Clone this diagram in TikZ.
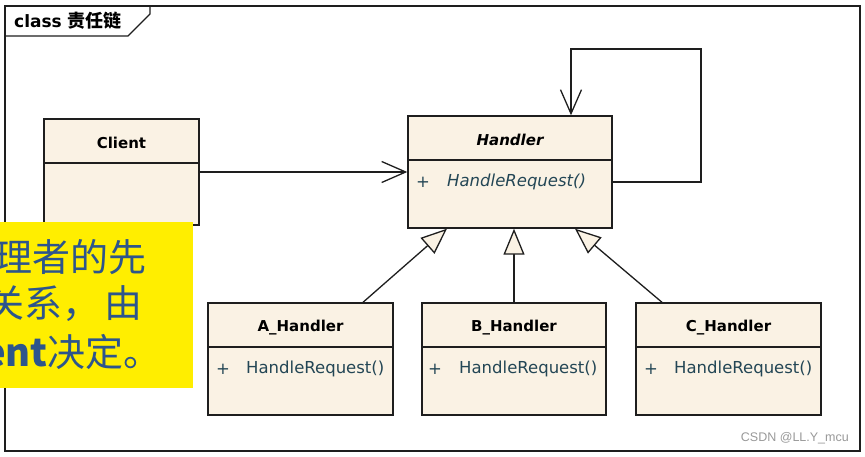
\documentclass[tikz,border=0pt]{standalone}
\usepackage{fontspec}
\setmainfont{DejaVu Sans}
\newfontfamily\cjk{Noto Sans CJK SC}
\newfontfamily\wm{Liberation Sans}
\usetikzlibrary{arrows.meta}
\definecolor{boxfill}{RGB}{250,242,228}
\definecolor{ln}{RGB}{30,30,30}
\definecolor{meth}{RGB}{35,70,85}
\definecolor{yel}{RGB}{255,238,0}
\definecolor{ytext}{RGB}{45,85,140}
\tikzset{
  cls/.style={draw=ln, line width=1.4pt, fill=boxfill, inner sep=0pt, anchor=center},
  sep/.style={draw=ln, line width=1.3pt},
  title/.style={font=\fontsize{15}{18}\selectfont\bfseries, text=black, inner sep=0pt},
  methtxt/.style={font=\fontsize{16.5}{19}\selectfont, text=meth, inner sep=0pt, anchor=west},
  assoc/.style={draw=ln, line width=1.3pt, -{Straight Barb[length=24pt,width=21pt]}},
  gen/.style={draw=ln, line width=1.3pt, -{Triangle[length=26pt,width=21pt,fill=boxfill]}},
  ytxt/.style={font=\cjk\fontsize{38}{42}\selectfont, text=ytext, inner sep=0pt, anchor=east},
}
\begin{document}
\begin{tikzpicture}[x=1pt,y=-1pt]
\useasboundingbox (0,0) rectangle (865,456);
\fill[white] (0,0) rectangle (865,456);
% frame
\draw[ln, line width=1.4pt] (5,6) rectangle (860,451);
\draw[ln, line width=1.2pt] (5,36) -- (128,36) -- (150,14) -- (150,6);
\node[font=\fontsize{17}{20}\selectfont\bfseries, anchor=west, inner sep=0pt] (frametitle) at (14,21) {class {\cjk\fontsize{18}{20}\selectfont 责任链}};

% Client
\node[cls, minimum width=155pt, minimum height=106pt] (Client) at (121.5,172) {};
\draw[sep] (Client.west |- 0,163) -- (Client.east |- 0,163);
\node[title] (clientT) at (121.5,142.5) {Client};

% Handler
\node[cls, minimum width=204pt, minimum height=112pt] (Handler) at (510,172) {};
\draw[sep] (Handler.west |- 0,160) -- (Handler.east |- 0,160);
\node[title, font=\fontsize{15}{18}\selectfont\bfseries\itshape] (handlerT) at (510,140) {Handler};
\node[methtxt, font=\fontsize{16.5}{19}\selectfont\itshape] (hplus) at (416,182) {+};
\node[methtxt, font=\fontsize{16.5}{19}\selectfont\itshape] (hm) at (447,182) {HandleRequest()};

% A
\node[cls, minimum width=185pt, minimum height=112pt] (A) at (300.5,359) {};
\draw[sep] (A.west |- 0,347) -- (A.east |- 0,347);
\node[title] (aT) at (300.5,328) {A\_Handler};
\node[methtxt] (aplus) at (216,369) {+};
\node[methtxt] (am) at (246,369) {HandleRequest()};

% B
\node[cls, minimum width=184pt, minimum height=112pt] (B) at (514,359) {};
\draw[sep] (B.west |- 0,347) -- (B.east |- 0,347);
\node[title] (bT) at (514,328) {B\_Handler};
\node[methtxt] (bplus) at (428,369) {+};
\node[methtxt] (bm) at (459,369) {HandleRequest()};

% C
\node[cls, minimum width=185pt, minimum height=112pt] (C) at (728.5,359) {};
\draw[sep] (C.west |- 0,347) -- (C.east |- 0,347);
\node[title] (cT) at (728.5,328) {C\_Handler};
\node[methtxt] (cplus) at (644,369) {+};
\node[methtxt] (cm) at (674,369) {HandleRequest()};

% connectors
\draw[assoc] (Client.east) -- (Handler.west);
\coordinate (lc) at (701,49);
\draw[assoc] ([yshift=-10pt]Handler.east) -| (lc) -| ([xshift=61pt]Handler.north);
\draw[gen] ([xshift=62.5pt]A.north) -- ([xshift=-63pt]Handler.south);
\draw[gen] (B.north) -- (B.north |- Handler.south);
\draw[gen] ([xshift=-66.5pt]C.north) -- ([xshift=65pt]Handler.south);

% yellow overlay
\fill[yel] (0,222) rectangle (193,388);
\begin{scope}
\clip (0,222) rectangle (193,388);
\node[ytxt] (y1) at (147,257) {理者的先};
\node[ytxt] (y2) at (143,304) {关系，\hspace{4pt}由};
\node[ytxt] (y3) at (162,352) {{\bfseries ent}决定。};
\end{scope}

% watermark
\node[font=\wm\fontsize{12.5}{14}\selectfont, text=gray!80, anchor=east, inner sep=0pt] (wmk) at (849,438) {CSDN @LL.Y\_mcu};
\end{tikzpicture}
\end{document}
